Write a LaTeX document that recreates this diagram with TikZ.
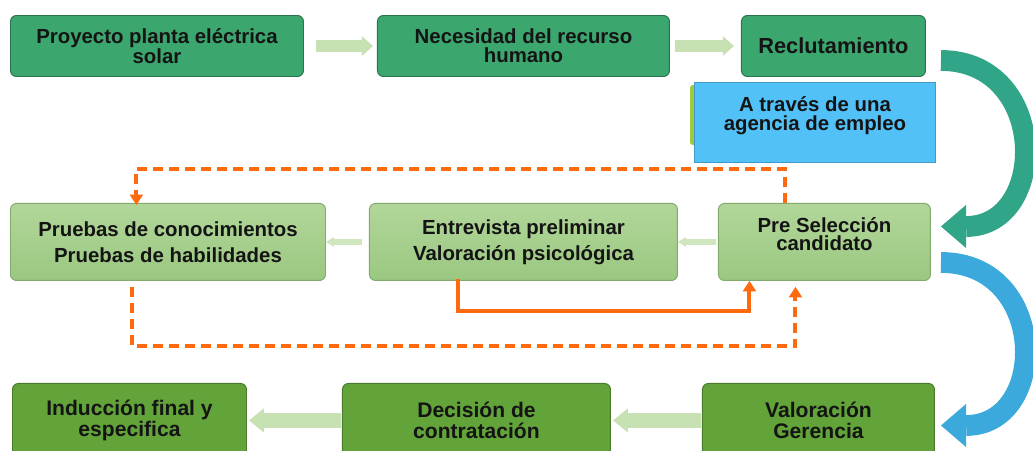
\documentclass[tikz,border=0pt]{standalone}
\usepackage{fontspec}
\setmainfont{Liberation Sans}
\usetikzlibrary{arrows.meta,positioning}
\definecolor{verdeuno}{HTML}{3BA76F}
\definecolor{verdedosa}{HTML}{B2D69A}
\definecolor{verdedosb}{HTML}{9AC880}
\definecolor{verdetres}{HTML}{62A33A}
\definecolor{celeste}{HTML}{52C1F7}
\definecolor{lima}{HTML}{9CCB42}
\definecolor{flechaclara}{HTML}{C8E1B3}
\definecolor{naranja}{HTML}{FF6A0E}
\definecolor{turquesa}{HTML}{31A587}
\definecolor{azulcurva}{HTML}{3BA9DC}
\tikzset{
  box/.style={rounded corners=0.15cm, align=center, text=black!92, inner sep=2pt, line width=0.7pt},
  faseuno/.style={box, fill=verdeuno, draw=verdeuno!70!black, minimum height=1.525cm,
                  font=\fontsize{14.5}{13.5}\selectfont\bfseries},
  fasedos/.style={box, top color=verdedosa, bottom color=verdedosb, draw=verdedosb!85!black,
                  minimum height=1.925cm, font=\fontsize{14.5}{18.5}\selectfont\bfseries},
  fasetres/.style={box, fill=verdetres, draw=verdetres!75!black, minimum height=1.85cm,
                   font=\fontsize{15}{15.5}\selectfont\bfseries},
  agenciabox/.style={box, rounded corners=0pt, fill=celeste, draw=celeste!80!black,
                     minimum width=6.025cm, minimum height=2cm, text depth=0.45cm,
                     font=\fontsize{14.5}{13.5}\selectfont\bfseries},
  flecha/.style={draw=flechaclara, line width=0.3cm, shorten <=0.3cm, shorten >=0.1cm,
                 -{Triangle[length=0.28cm, width=0.5cm, line width=0pt]}},
  flechafina/.style={draw=flechaclara!85!white, line width=0.13cm, shorten <=0.05cm,
                     -{Triangle[length=0.2cm, width=0.25cm, line width=0pt]}},
  flechabaja/.style={draw=flechaclara, line width=0.38cm, shorten <=0.02cm, shorten >=0.05cm,
                     -{Triangle[length=0.37cm, width=0.6cm, line width=0pt]}},
  retorno/.style={draw=naranja, line width=0.1cm,
                  -{Triangle[length=0.26cm, width=0.34cm, line width=0pt]}},
  retornodash/.style={retorno, dash pattern=on 0.25cm off 0.15cm},
  curva/.style={line width=0.52cm, -{Triangle[length=0.63cm, width=1.08cm, line width=0pt]}}
}

\begin{document}
\begin{tikzpicture}
  \useasboundingbox (0,0) rectangle (25.825,-11.25);

  % primera fila
  \node[faseuno, minimum width=7.325cm, anchor=north west] (proyecto) at (0.25,-0.375)
    {Proyecto planta eléctrica\\solar};
  \node[faseuno, minimum width=7.3cm, right=1.825cm of proyecto] (necesidad)
    {Necesidad del recurso\\humano};
  \node[faseuno, minimum width=4.6cm, right=1.775cm of necesidad,
        font=\fontsize{15.5}{15}\selectfont\bfseries] (reclutamiento) {Reclutamiento};

  \fill[lima, rounded corners=2pt] (17.25,-2.125) rectangle (17.45,-3.625);
  \node[agenciabox, anchor=north west] (agencia) at (17.35,-2.05)
    {A través de una\\agencia de empleo};

  % segunda fila
  \node[fasedos, minimum width=7.875cm, below right=3.15cm and 0cm of proyecto.south west] (pruebas)
    {Pruebas de conocimientos\\Pruebas de habilidades};
  \node[fasedos, minimum width=7.7cm, right=1.075cm of pruebas] (entrevista)
    {Entrevista preliminar\\Valoración psicológica};
  \node[fasedos, minimum width=5.3cm, right=1cm of entrevista, text depth=0.4cm,
        font=\fontsize{14.5}{13.2}\selectfont\bfseries] (preseleccion)
    {Pre Selección\\candidato};

  % tercera fila
  \node[fasetres, minimum width=5.85cm, below right=2.55cm and 0.05cm of pruebas.south west] (induccion)
    {Inducción final y\\especifica};
  \node[fasetres, minimum width=6.7cm, right=2.375cm of induccion] (decision)
    {Decisión de\\contratación};
  \node[fasetres, minimum width=5.8cm, right=2.275cm of decision] (valoracion)
    {Valoración\\Gerencia};

  % flechas entre etapas
  \draw[flecha] (proyecto) -- (necesidad);
  \draw[flecha, shorten <=0.125cm, shorten >=0.175cm] (necesidad) -- (reclutamiento);
  \draw[flechafina, shorten <=0.18cm] (entrevista) -- (pruebas);
  \draw[flechafina] (preseleccion) -- (entrevista);
  \draw[flechabaja] (decision) -- (induccion);
  \draw[flechabaja] (valoracion) -- (decision);

  % curvas laterales
  \draw[curva, turquesa] ([xshift=0.375cm, yshift=-0.3625cm]reclutamiento.east)
    .. controls +(2.7,0) and +(2.7,0) .. ([xshift=0.25cm, yshift=0.3875cm]preseleccion.east);
  \draw[curva, azulcurva] ([xshift=0.25cm, yshift=-0.5125cm]preseleccion.east)
    .. controls +(2.7,0) and +(2.7,0) .. ([xshift=0.15cm, yshift=-0.125cm]valoracion.east);

  % retornos en naranja
  \draw[retornodash] ([xshift=-0.975cm]preseleccion.north) -- ++(0,0.85cm)
    -| ([xshift=-0.79cm, yshift=-0.05cm]pruebas.north);
  \draw[retornodash] ([xshift=-0.91cm, yshift=-0.15cm]pruebas.south) -- ++(0,-1.475cm)
    -| ([xshift=-0.725cm, yshift=-0.15cm]preseleccion.south);
  \draw[retorno] ([xshift=-1.625cm, yshift=0.05cm]entrevista.south) -- ++(0,-0.8cm)
    -| ([xshift=-1.875cm]preseleccion.south);
\end{tikzpicture}
\end{document}
